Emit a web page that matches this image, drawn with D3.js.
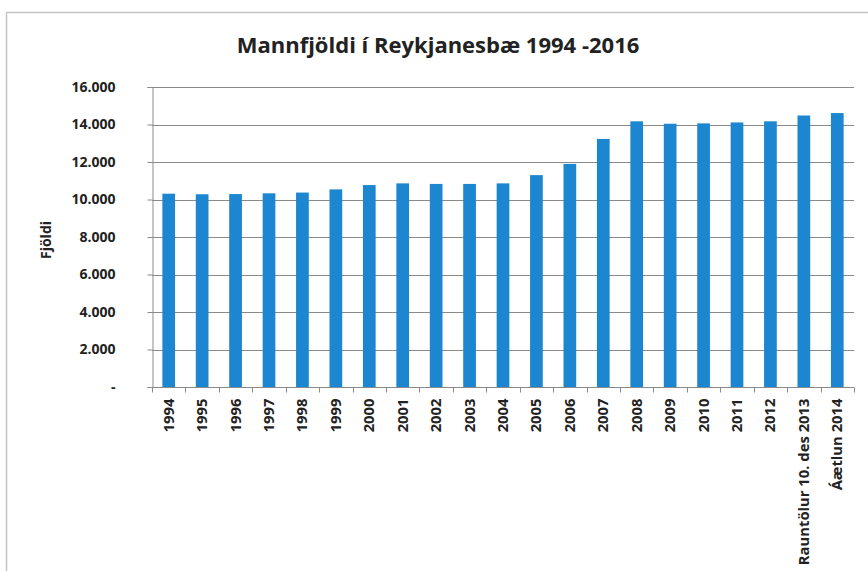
<!DOCTYPE html>
<html><head><meta charset="utf-8">
<script src="https://cdn.jsdelivr.net/npm/d3@7"></script>
<style>
html,body{margin:0;padding:0;background:#fff;}
svg{display:block;}
text{font-family:"Open Sans",Lato,sans-serif;font-weight:bold;fill:#222;}
</style></head><body>
<script>
const categories = ["1994","1995","1996","1997","1998","1999","2000","2001","2002","2003","2004","2005","2006","2007","2008","2009","2010","2011","2012","Rauntölur 10. des 2013","Áætlun 2014"];
const population = [10310,10280,10290,10330,10370,10540,10770,10860,10830,10830,10860,11300,11900,13230,14170,14040,14060,14110,14170,14480,14610];
const yTicks = [0,2000,4000,6000,8000,10000,12000,14000,16000];
const yTickLabels = ["-","2.000","4.000","6.000","8.000","10.000","12.000","14.000","16.000"];
const title = "Mannfjöldi í Reykjanesbæ 1994 -2016";
const yTitle = "Fjöldi";

const W = 868, H = 571;
const m = {left:152, right:14, top:87, bottom:184};
const svg = d3.select("body").append("svg").attr("width",W).attr("height",H);

// outer frame (extends beyond the picture to the right and bottom)
svg.append("rect").attr("x",6.5).attr("y",12.5).attr("width",W+20).attr("height",H+20)
  .attr("fill","none").attr("stroke","#c4c4c4").attr("stroke-width",1.5);

const x = d3.scaleBand().domain(categories).range([m.left, W-m.right]).paddingInner(0.62).paddingOuter(0.31);
const y = d3.scaleLinear().domain([0,16000]).range([H-m.bottom, m.top]);

// gridlines
svg.append("g").selectAll("line").data(yTicks.slice(1)).join("line")
  .attr("x1",m.left).attr("x2",W-m.right)
  .attr("y1",d=>Math.round(y(d))+0.5).attr("y2",d=>Math.round(y(d))+0.5)
  .attr("stroke","#8a8a8a").attr("stroke-width",1);

// bars
svg.append("g").selectAll("rect").data(population).join("rect")
  .attr("x",(d,i)=>x(categories[i])).attr("width",x.bandwidth())
  .attr("y",d=>y(d)).attr("height",d=>y(0)-y(d))
  .attr("fill","#1c87d0");

// y axis
const yAxis = d3.axisLeft(y).tickValues(yTicks).tickSize(5).tickPadding(30)
  .tickFormat((d,i)=>yTickLabels[i]);
const gy = svg.append("g").attr("transform",`translate(${m.left+0.5},0)`).call(yAxis);
gy.selectAll("line,path").attr("stroke","#8a8a8a");
gy.selectAll("text").attr("font-size",14).attr("fill","#222").attr("font-family","Open Sans").attr("font-weight","bold");
gy.selectAll(".tick text").attr("x",-37);

// x axis: ticks at category boundaries
const gx = svg.append("g").attr("transform",`translate(0,${Math.round(y(0))+0.5})`);
gx.append("line").attr("x1",m.left).attr("x2",W-m.right).attr("stroke","#8a8a8a");
const step = x.step();
const bounds = d3.range(categories.length+1).map(i=>m.left + i*step);
gx.selectAll("line.tk").data(bounds).join("line").attr("class","tk")
  .attr("x1",d=>Math.round(d)+0.5).attr("x2",d=>Math.round(d)+0.5).attr("y1",0).attr("y2",5)
  .attr("stroke","#8a8a8a");
gx.selectAll("text").data(categories).join("text")
  .attr("transform",d=>`translate(${x(d)+x.bandwidth()/2+5},11) rotate(-90)`)
  .attr("text-anchor","end").attr("font-size",14.8).text(d=>d);

// titles
svg.append("text").attr("x",438).attr("y",53).attr("text-anchor","middle")
  .attr("font-size",22).text(title);
svg.append("text").attr("transform","translate(51,240) rotate(-90)")
  .attr("text-anchor","middle").attr("font-size",14).text(yTitle);
</script>
</body></html>
